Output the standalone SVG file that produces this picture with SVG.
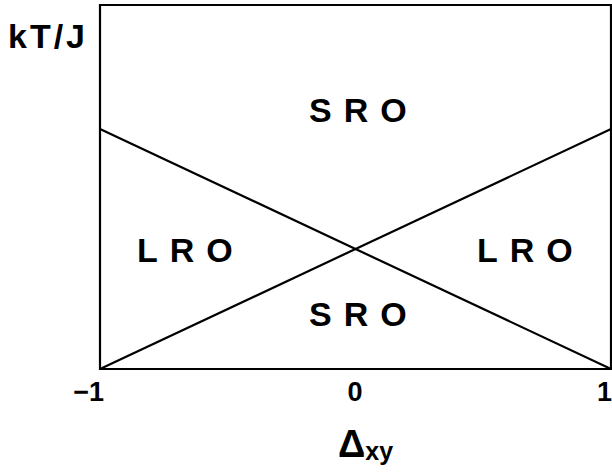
<svg xmlns="http://www.w3.org/2000/svg" width="612" height="473" viewBox="0 0 612 473">
<style>
.t{font-family:"Liberation Sans",Arial,sans-serif;font-weight:bold;fill:#000}
.lbl{font-size:34px;letter-spacing:12px}
.tick{font-size:27px}
.ln{stroke:#000;stroke-width:2.2;fill:none}
</style>
<rect width="612" height="473" fill="#fff"/>
<g id="axes">
<path class="ln" d="M100,5 H611 V369 H100 Z"/>
</g>
<g id="connectors">
<line class="ln" x1="100" y1="129" x2="611" y2="369"/>
<line class="ln" x1="100" y1="369" x2="611" y2="129"/>
</g>
<g id="ylabel"><text class="t" x="8" y="48" font-size="34" letter-spacing="3">kT/J</text></g>
<g id="sro-top"><text class="t lbl" x="309" y="122">SRO</text></g>
<g id="lro-left"><text class="t lbl" x="137" y="262" letter-spacing="14">LRO</text></g>
<g id="lro-right"><text class="t lbl" x="477" y="262" letter-spacing="13">LRO</text></g>
<g id="sro-bottom"><text class="t lbl" x="309" y="326">SRO</text></g>
<g id="ticks">
<text class="t tick" x="104" y="401" text-anchor="end">−1</text>
<text class="t tick" x="355" y="401" text-anchor="middle">0</text>
<text class="t tick" x="612" y="401" text-anchor="end">1</text>
</g>
<g id="xlabel"><text class="t" x="338" y="457" font-size="38">Δ<tspan font-size="25" dy="3">xy</tspan></text></g>
</svg>
